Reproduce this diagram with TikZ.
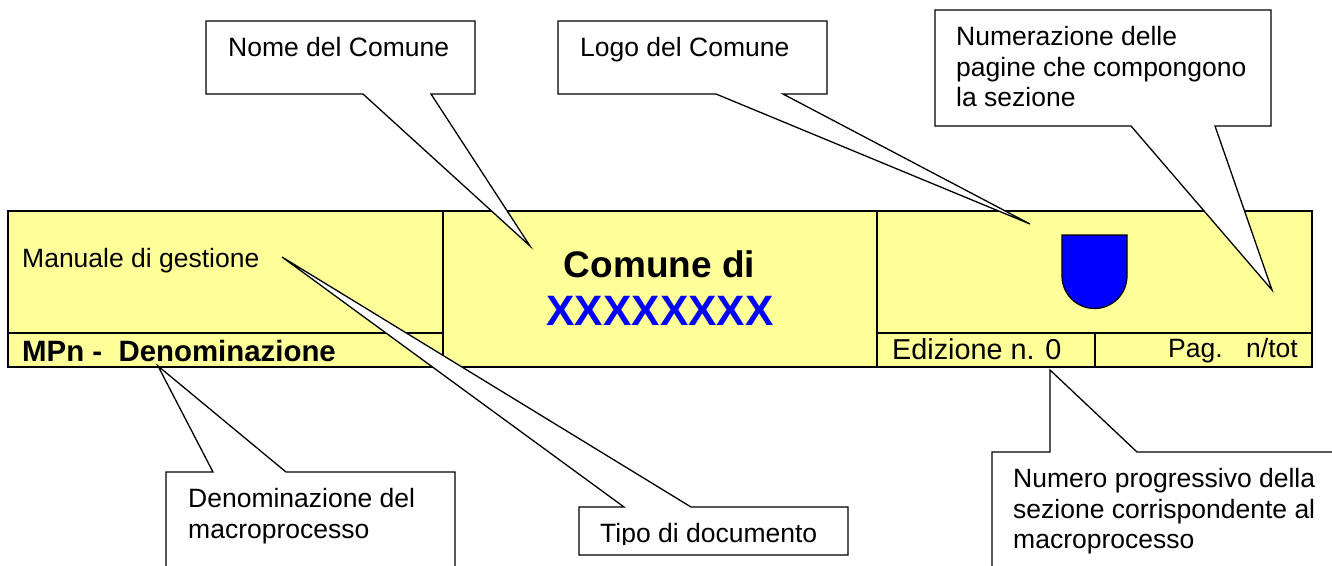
\documentclass[tikz,border=0pt]{standalone}
\usepackage{fontspec}
\setmainfont{Liberation Sans}
\definecolor{band}{RGB}{255,255,153}
\definecolor{shieldblue}{RGB}{0,0,255}
\tikzset{
  callout/.style={draw=black,fill=white,line width=1.3pt,line join=miter},
  bandline/.style={draw=black,line width=1.6pt},
  lbl/.style={anchor=base west,inner sep=0pt,font=\fontsize{26.5}{30.6}\selectfont},
  lblml/.style={anchor=north west,inner sep=0pt,align=left,font=\fontsize{26.5}{30.6}\selectfont}
}
\begin{document}
\begin{tikzpicture}[x=1pt,y=-1pt]
\useasboundingbox (0,0) rectangle (1332,565);
% band
\path[fill=band] (8,211) rectangle (1312,367);
\draw[bandline] (8,211) rectangle (1312,367);
\draw[bandline,line width=1.1pt] (443,211) -- (443,367);
\draw[bandline,line width=1.1pt] (877,211) -- (877,367);
\draw[bandline] (8,333) -- (443,333);
\draw[bandline] (877,333) -- (1312,333);
\draw[bandline] (1095,333) -- (1095,367);
% shield
\draw[fill=shieldblue,draw=black,line width=1.2pt] (1062,235) -- (1127,235) -- (1127,276) arc[start angle=0,end angle=180,radius=32.5] -- cycle;
% band text
\node[lbl] (mg) at (22,267) {Manuale di gestione};
\node[lbl,font=\fontsize{29.4}{34}\bfseries\selectfont] (mp) at (22,361) {MPn -\ \ Denominazione};
\node[lbl,font=\fontsize{37}{42}\bfseries\selectfont,anchor=base] (cd) at (659.5,277) {Comune di};
\node[lbl,font=\fontsize{42.5}{48}\bfseries\selectfont,anchor=base,text=shieldblue] (xx) at (660,325) {XXXXXXXX};
\node[lbl,font=\fontsize{28.8}{33}\selectfont] (ed) at (892,359) {Edizione n. 0};
\node[lbl] (pg) at (1168,357) {Pag.};
\node[lbl] (nt) at (1246,357) {n/tot};
% callouts
\coordinate (t1) at (530,246);
\draw[callout] (206,21) -- (475,21) -- (475,94) -- (431,94) -- (t1) -- (363,94) -- (206,94) -- cycle;
\node[lbl] (a1) at (228,56) {Nome del Comune};
\coordinate (t2) at (1030,224);
\draw[callout] (558,21) -- (827,21) -- (827,94) -- (783,94) -- (t2) -- (716,94) -- (558,94) -- cycle;
\node[lbl] (a2) at (580,56) {Logo del Comune};
\coordinate (t3) at (1272,290);
\draw[callout] (935,10) -- (1271,10) -- (1271,126) -- (1215,126) -- (t3) -- (1131,126) -- (935,126) -- cycle;
\node[lblml] (a3) at (956,26) {Numerazione delle\\pagine che compongono\\la sezione};
\coordinate (t4) at (158,366);
\draw[callout] (166,566) -- (166,472) -- (213,472) -- (t4) -- (286,472) -- (455,472) -- (455,566);
\node[lblml] (a4) at (188,488) {Denominazione del\\macroprocesso};
\coordinate (t5) at (282,257);
\draw[callout] (579,507) -- (624,507) -- (t5) -- (691,507) -- (848,507) -- (848,555) -- (579,555) -- cycle;
\begin{scope}
\clip (585,515) rectangle (840,544);
\node[lbl] (a5) at (600,542) {Tipo di documento};
\end{scope}
\coordinate (t6) at (1050,370);
\draw[callout] (992,566) -- (992,452) -- (1050,452) -- (t6) -- (1137,452) -- (1333,452);
\node[lblml] (a6) at (1013,468) {Numero progressivo della\\sezione corrispondente al\\macroprocesso};
\end{tikzpicture}
\end{document}
